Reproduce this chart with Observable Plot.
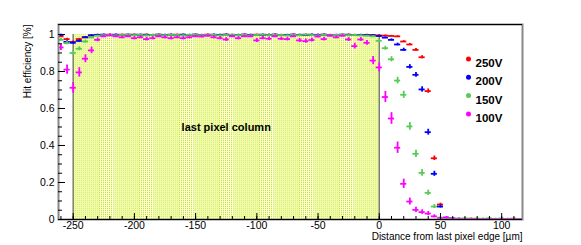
<!DOCTYPE html>
<html><head><meta charset="utf-8">
<script src="https://cdn.jsdelivr.net/npm/d3@7"></script>
<script src="https://cdn.jsdelivr.net/npm/@observablehq/plot@0.6"></script>
<style>body{margin:0;background:#fff;} svg{font-family:"Liberation Sans",Arial,sans-serif;}</style>
</head><body><div id="chart"></div>
<script>
const distance = [-260,-255,-250,-245,-240,-235,-230,-225,-220,-215,-210,-205,-200,-195,-190,-185,-180,-175,-170,-165,-160,-155,-150,-145,-140,-135,-130,-125,-120,-115,-110,-105,-100,-95,-90,-85,-80,-75,-70,-65,-60,-55,-50,-45,-40,-35,-30,-25,-20,-15,-10,-5,0,5,10,15,20,25,30,35,40,45,50,55,60,65,70,75,80,85,90,95,100,105,110,115];
const eff250 = [0.990,0.975,0.960,0.975,0.985,0.995,0.998,
 0.998,0.999,0.997,0.999,0.998,0.999,0.997,0.999,0.998,0.999,0.997,0.998,0.999,0.998,0.997,0.999,0.998,0.999,0.997,0.998,
 0.999,0.998,0.997,0.999,0.998,0.999,0.997,0.998,0.999,0.998,0.997,0.999,0.998,0.999,0.997,0.998,0.999,0.998,0.997,0.998,
 0.999,0.998,0.997,0.998,0.997,
 0.995,0.994,0.992,0.990,0.962,0.946,0.917,0.877,0.694,0.331,0.081,0.008,0.004,0.003,0.002,0.004,0.003,0.002,0.003,0.002,0.003,0.002,0.004,0.002];
const eff200 = [0.998,0.960,0.955,0.965,0.985,0.995,0.998,
 0.999,0.998,0.999,0.997,0.999,0.998,0.999,0.998,0.997,0.999,0.998,0.999,0.997,0.999,0.998,0.999,0.997,0.998,0.999,0.998,
 0.999,0.997,0.998,0.999,0.998,0.997,0.999,0.998,0.999,0.997,0.998,0.999,0.998,0.997,0.999,0.998,0.999,0.997,0.998,0.999,
 0.998,0.997,0.998,0.997,0.995,
 0.992,0.983,0.971,0.946,0.917,0.825,0.782,0.703,0.472,0.247,0.070,0.010,0.006,0.004,0.003,0.003,0.002,0.003,0.002,0.003,0.004,0.002,0.003,0.003];
const eff150 = [0.971,0.953,0.900,0.923,0.962,0.984,0.993,
 0.996,0.998,0.995,0.997,0.999,0.996,0.998,0.995,0.997,0.999,0.996,0.998,0.997,0.995,0.998,0.999,0.996,0.997,0.998,0.995,
 0.997,0.999,0.996,0.998,0.995,0.997,0.999,0.996,0.998,0.997,0.995,0.998,0.996,0.999,0.997,0.995,0.998,0.996,0.997,0.999,
 0.996,0.997,0.995,0.993,0.990,
 0.966,0.926,0.866,0.751,0.674,0.503,0.355,0.252,0.144,0.070,0.010,0.008,0.005,0.004,0.006,0.004,0.005,0.004,0.006,0.003,0.004,0.003,0.004,0.003];
const eff100 = [0.930,0.810,0.712,0.795,0.869,0.914,0.971,
 0.990,0.995,0.990,0.985,0.990,0.980,0.985,0.975,0.980,0.990,
 0.985,0.980,0.985,0.980,0.985,0.990,0.989,0.993,0.985,0.980,
 0.973,0.990,0.980,0.990,0.990,0.968,0.980,0.977,0.990,0.977,
 0.975,0.990,0.968,0.964,0.970,0.989,0.975,0.993,0.985,0.993,
 0.973,0.937,0.973,0.955,0.859,
 0.822,0.662,0.546,0.388,0.193,0.097,0.052,0.040,0.032,0.017,0.006,0.010,0.004,0.003,0.002,0.003,0.002,0.002,0.003,0.002,0.002,0.003,0.002,0.002];

const seriesNames = ["250V", "200V", "150V", "100V"];
const seriesValues = [eff250, eff200, eff150, eff100];
const seriesColors = ["#ff0000", "#0000ff", "#55cc55", "#ff00ff"];
const seriesEvents = [1500, 1000, 600, 250]; // approx. events per bin (binomial errors)
const binHalfWidth = 2.5;
const xTicks = [-250, -200, -150, -100, -50, 0, 50, 100];
const xMinorTicks = [-260,-250,-240,-230,-220,-210,-200,-190,-180,-170,-160,-150,-140,-130,-120,-110,-100,-90,-80,-70,-60,-50,-40,-30,-20,-10,0,10,20,30,40,50,60,70,80,90,100,110];
const yTicks = [0, 0.2, 0.4, 0.6, 0.8, 1];
const yMinorTicks = [0,0.05,0.1,0.15,0.2,0.25,0.3,0.35,0.4,0.45,0.5,0.55,0.6,0.65,0.7,0.75,0.8,0.85,0.9,0.95,1];
const regionLabel = "last pixel column";
const regionStart = -250, regionEnd = 0;
const xTitle = "Distance from last pixel edge [µm]";
const yTitle = "Hit efficiency [%]";
const xDomain = [-262, 117];
const yDomain = [0, 1.054];

const series = seriesNames.map((name, s) => distance.map((x, i) => {
  const y = seriesValues[s][i];
  return {series: name, x, y, err: Math.max(0.003, Math.sqrt(y * (1 - y) / seriesEvents[s]))};
}));

const marks = [
  Plot.rect([{x1: regionStart, x2: regionEnd, y1: 0, y2: 1}], {x1: "x1", x2: "x2", y1: "y1", y2: "y2", fill: "url(#lpc)"}),
  Plot.ruleX([regionStart, regionEnd], {y1: 0, y2: 1, stroke: "#7d7d6a", strokeWidth: 1.5})
];
series.forEach((rows, s) => {
  marks.push(Plot.ruleX(rows, {x: "x", y1: d => d.y - d.err, y2: d => d.y + d.err, stroke: seriesColors[s], strokeWidth: 1.8, clip: true}));
  marks.push(Plot.ruleY(rows, {y: "y", x1: d => d.x - binHalfWidth, x2: d => d.x + binHalfWidth, stroke: seriesColors[s], strokeWidth: 1.8, clip: true}));
});
marks.push(
  Plot.frame({stroke: "#888", strokeWidth: 2}),
  Plot.ruleY([yDomain[0], yDomain[1]], {stroke: "#000", strokeWidth: 1}),
  Plot.axisX(xMinorTicks, {tickSize: -3, tickFormat: () => "", label: null}),
  Plot.axisX(xTicks, {tickSize: -6, tickPadding: 8.5, tickFormat: d => String(d), fontSize: 10.5, label: null}),
  Plot.axisY(yMinorTicks, {tickSize: -4, tickFormat: () => "", label: null}),
  Plot.axisY(yTicks, {tickSize: -7, tickPadding: 11, tickFormat: d => String(d), fontSize: 10.5, label: null}),
  Plot.text([regionLabel], {x: (regionStart + regionEnd) / 2, y: 0.5, fontWeight: "bold", fontSize: 11}),
  Plot.text([xTitle], {frameAnchor: "bottom-right", textAnchor: "end", dy: 20, dx: 0, fontSize: 10}),
  Plot.text([yTitle], {frameAnchor: "top-left", textAnchor: "end", rotate: -90, dx: -35, dy: 0, fontSize: 10})
);
seriesNames.forEach((name, s) => {
  marks.push(Plot.dot([name], {frameAnchor: "top-left", dx: 410, dy: 34.5 + s * 18.3, r: 2.5, fill: seriesColors[s], stroke: "none"}));
  marks.push(Plot.text([name], {frameAnchor: "top-left", dx: 417, dy: 34.5 + s * 18.3, textAnchor: "start", fontWeight: "bold", fontSize: 11.5}));
});

const chart = Plot.plot({
  width: 581, height: 245,
  marginLeft: 58, marginRight: 59, marginTop: 24, marginBottom: 26,
  x: {domain: xDomain, label: null},
  y: {domain: yDomain, label: null},
  style: {fontFamily: '"Liberation Sans", Arial, sans-serif', color: "#000", background: "#fff", overflow: "visible"},
  marks
});
// texture of the shaded "last pixel column" area (pale yellow, dotted, with clusters of thin white lines)
let tile = '<rect width="40" height="2" fill="#eefab8"/>';
for (let x = 0; x < 26; x += 2) tile += `<rect x="${x}" y="0" width="1" height="1" fill="#e0f150"/>`;
for (let x = 26; x < 40; x += 2) tile += `<rect x="${x}" y="0" width="1" height="1" fill="#d2ea08"/><rect x="${x + 1}" y="0" width="1" height="2" fill="#fdfff2"/>`;
const ns = "http://www.w3.org/2000/svg";
const defs = document.createElementNS(ns, "defs");
defs.innerHTML = `<pattern id="lpc" x="73" y="0" width="40" height="2" patternUnits="userSpaceOnUse">${tile}</pattern>`;
chart.insertBefore(defs, chart.firstChild);
document.getElementById("chart").appendChild(chart);
</script>
</body></html>
